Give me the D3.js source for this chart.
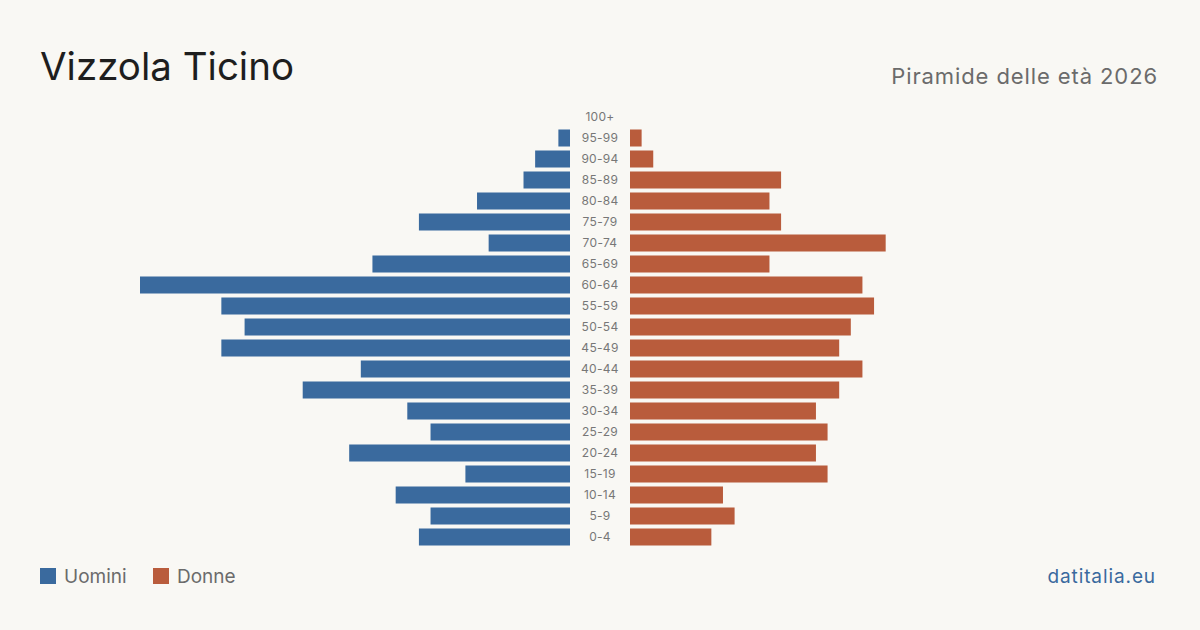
<!DOCTYPE html>
<html>
<head>
<meta charset="utf-8">
<script src="https://cdn.jsdelivr.net/npm/d3@7"></script>
<style>
  body { margin: 0; background: #f9f8f4; }
  svg { display: block; font-family: Inter, "Noto Sans", sans-serif; }
</style>
</head>
<body>
<svg id="chart" width="1200" height="630"></svg>
<script>
// fasce d'età, dall'alto verso il basso
var ageGroups = ["100+", "95-99", "90-94", "85-89", "80-84", "75-79", "70-74", "65-69", "60-64", "55-59",
  "50-54", "45-49", "40-44", "35-39", "30-34", "25-29", "20-24", "15-19", "10-14", "5-9", "0-4"];
var maleValues = [0, 1, 3, 4, 8, 13, 7, 17, 37, 30, 28, 30, 18, 23, 14, 12, 19, 9, 15, 12, 13];
var femaleValues = [0, 1, 2, 13, 12, 13, 22, 12, 20, 21, 19, 18, 20, 18, 16, 17, 16, 17, 8, 9, 7];
var legendItems = ["Uomini", "Donne"];

var maleColor = "#3a6a9e", femaleColor = "#b95c3c";

var svg = d3.select("#chart");
var width = +svg.attr("width");

var centerLeft = 570, centerRight = 630, maxLen = 430;

var maxVal = d3.max(maleValues.concat(femaleValues));

var xScale = d3.scaleLinear()
  .domain([0, maxVal])
  .range([0, maxLen]);

var yScale = d3.scaleBand()
  .domain(ageGroups)
  .range([106.5, 547.5])
  .paddingInner(0.19)
  .paddingOuter(0.095);

var rows = ageGroups.map((g, i) => ({ group: g, m: maleValues[i], f: femaleValues[i] }));

svg.append("text")
  .attr("x", 40).attr("y", 80)
  .attr("font-size", 38.5)
  .attr("fill", "#1e1e1e")
  .text("Vizzola Ticino");

svg.append("text")
  .attr("x", 1158).attr("y", 84)
  .attr("text-anchor", "end")
  .attr("font-size", 22)
  .attr("letter-spacing", 0.9)
  .attr("fill", "#6b6b6b")
  .text("Piramide delle età 2026");

svg.selectAll(".bar-m")
  .data(rows)
  .enter().append("rect")
  .classed("bar-m", true)
  .attr("x", d => centerLeft - xScale(d.m))
  .attr("y", d => yScale(d.group))
  .attr("width", d => xScale(d.m))
  .attr("height", yScale.bandwidth())
  .attr("fill", maleColor);

svg.selectAll(".bar-f")
  .data(rows)
  .enter().append("rect")
  .classed("bar-f", true)
  .attr("x", centerRight)
  .attr("y", d => yScale(d.group))
  .attr("width", d => xScale(d.f))
  .attr("height", yScale.bandwidth())
  .attr("fill", femaleColor);

svg.selectAll(".age")
  .data(ageGroups)
  .enter().append("text")
  .classed("age", true)
  .attr("x", (centerLeft + centerRight) / 2)
  .attr("y", d => yScale(d) + yScale.bandwidth() / 2)
  .attr("dy", "0.35em")
  .attr("text-anchor", "middle")
  .attr("font-size", 12)
  .attr("letter-spacing", 0.3)
  .attr("fill", "#777")
  .text(d => d);

// legenda
var legendX = [40, 153];
var legend = svg.selectAll(".legend")
  .data(legendItems)
  .enter().append("g")
  .classed("legend", true)
  .attr("transform", (d, i) => "translate(" + legendX[i] + ",568)");

legend.append("rect")
  .attr("width", 16).attr("height", 16)
  .attr("fill", (d, i) => i == 0 ? maleColor : femaleColor);

legend.append("text")
  .attr("x", 24).attr("y", 15)
  .attr("font-size", 19)
  .attr("fill", "#6b6b6b")
  .text(d => d);

svg.append("text")
  .attr("x", 1156).attr("y", 583)
  .attr("text-anchor", "end")
  .attr("font-size", 19)
  .attr("letter-spacing", 0.9)
  .attr("fill", maleColor)
  .text("datitalia.eu");
</script>
</body>
</html>
